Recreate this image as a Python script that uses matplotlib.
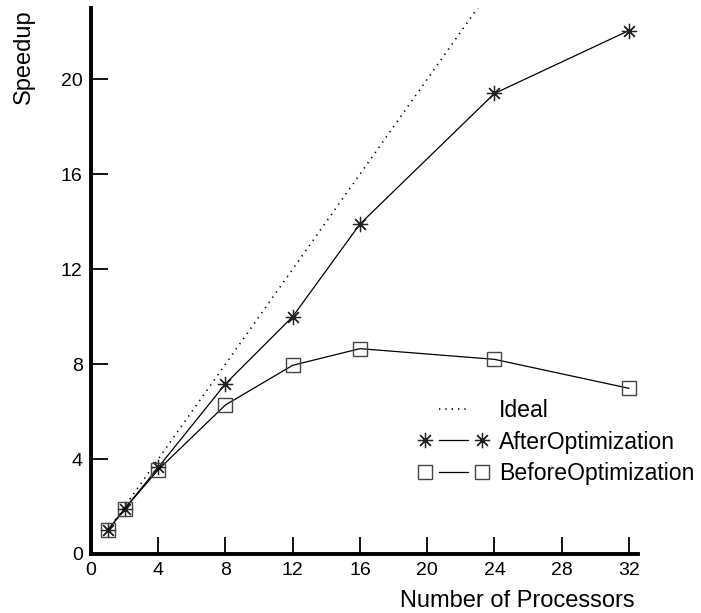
import matplotlib
matplotlib.use("Agg")
import matplotlib.pyplot as plt
from matplotlib.lines import Line2D
from matplotlib.legend_handler import HandlerLine2D

plt.rcParams['font.family'] = ['Liberation Sans', 'DejaVu Sans']

processors = [1, 2, 4, 8, 12, 16, 24, 32]
ideal = [1, 2, 4, 8, 12, 16, 24, 32]
after_opt = [1.0, 1.9, 3.65, 7.17, 10.0, 13.9, 19.4, 22.05]
before_opt = [1.0, 1.9, 3.55, 6.28, 7.95, 8.65, 8.2, 6.98]
xticks = [0, 4, 8, 12, 16, 20, 24, 28, 32]
yticks = [0, 4, 8, 12, 16, 20]


class GapLineHandler(HandlerLine2D):
    def create_artists(self, legend, orig_handle, xdescent, ydescent,
                       width, height, fontsize, trans):
        xdata, _ = self.get_xdata(legend, xdescent, ydescent, width, height, fontsize)
        y = (height - ydescent) / 2
        mk = Line2D(xdata, [y] * len(xdata))
        self.update_prop(mk, orig_handle, legend)
        mk.set_linestyle('none')
        mk.set_transform(trans)
        gap = 0.6 * fontsize
        ln = Line2D([xdata[0] + gap, xdata[-1] - gap], [y, y])
        self.update_prop(ln, orig_handle, legend)
        ln.set_marker('none')
        ln.set_transform(trans)
        return [ln, mk]


W, H = 701, 613
fig = plt.figure(figsize=(W / 100, H / 100), dpi=100)
ax = fig.add_axes([91 / W, (H - 554) / H, (638 - 91) / W, (554 - 8) / H])

star = (8, 2, 0)
l_ideal, = ax.plot(processors, ideal, linestyle=(0, (0.8, 3.0)), color='black',
                   linewidth=1.2, label='Ideal', clip_on=True)
l_after, = ax.plot(processors, after_opt, color='black', linewidth=0.9,
                   marker=star, markersize=11, markeredgewidth=0.9,
                   markeredgecolor='#222222', label='AfterOptimization')
l_before, = ax.plot(processors, before_opt, color='black', linewidth=0.9,
                    marker='s', markersize=10.5, markeredgewidth=1.0,
                    markerfacecolor='none', markeredgecolor='#444444',
                    label='BeforeOptimization')

ax.set_xlim(0, 32.54)
ax.set_ylim(0, 23)
ax.set_xticks(xticks)
ax.set_yticks(yticks)
for s in ['top', 'right']:
    ax.spines[s].set_visible(False)
for s in ['left', 'bottom']:
    ax.spines[s].set_linewidth(2.8)
ax.tick_params(direction='in', length=12, width=1.3, labelsize=14, pad=6,
               colors='black')

fig.text(24 / W, (H - 9) / H, 'Speedup', rotation=90, ha='center', va='top',
         fontsize=17)
fig.text(635 / W, (H - 607) / H, 'Number of Processors', ha='right',
         va='baseline', fontsize=17)

hm = {l: GapLineHandler(numpoints=2) for l in (l_ideal, l_after, l_before)}
ax.legend(handles=[l_ideal, l_after, l_before], handler_map=hm, frameon=False,
          fontsize=16.6, numpoints=2, handlelength=3.08, handletextpad=0.43,
          labelspacing=0.36, borderpad=0, borderaxespad=0,
          loc='center left', bbox_to_anchor=(418 / W, 1 - 442 / H),
          bbox_transform=fig.transFigure)

fig.savefig('out.png', dpi=100)
